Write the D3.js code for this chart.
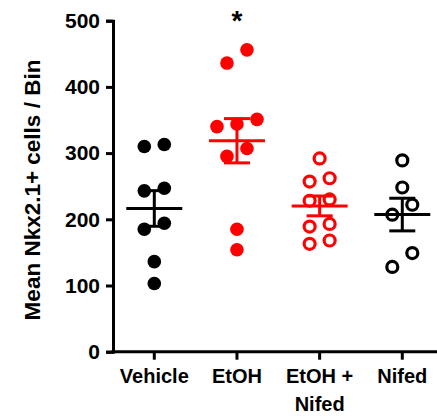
<!DOCTYPE html>
<html>
<head>
<meta charset="utf-8">
<script src="https://cdn.jsdelivr.net/npm/d3@7"></script>
<style>
  body { margin: 0; background: #fff; }
  svg text { font-family: "Liberation Sans", Arial, sans-serif; font-weight: bold; }
</style>
</head>
<body>
<script>
(function(){

    //data
    var categories = ["Vehicle", "EtOH", "EtOH + Nifed", "Nifed"];
    var vehicle = [313, 310, 247, 243, 194, 185, 136, 103];
    var etoh = [456, 436, 351, 344, 340, 307, 295, 185, 154];
    var etohNifed = [292, 262, 257, 230, 228, 193, 189, 168, 163];
    var nifed = [289, 248, 222, 207, 149, 128];
    var yTicks = [0, 100, 200, 300, 400, 500];
    var groupColors = ["#000000", "#ff0000", "#ff0000", "#000000"];
    var groupFilled = [true, true, false, false];
    var significant = ["EtOH"];

    var groups = [vehicle, etoh, etohNifed, nifed];

    window.onload = drawChart;

    function drawChart(){
        var width = 437, height = 419;

        var svg = d3.select("body")
            .append("svg")
            .attr("width", width)
            .attr("height", height);

        var y = d3.scaleLinear()
            .domain([0, 500])
            .range([351.7, 20.7]);

        var x = d3.scalePoint()
            .domain(categories)
            .range([154.3, 402.3]);

        //y axis
        var yAxis = svg.append("g")
            .attr("transform", "translate(113,0)")
            .call(d3.axisLeft(y).tickValues(yTicks).tickSize(7).tickPadding(6));
        yAxis.select(".domain").attr("stroke-width", 3);
        yAxis.selectAll(".tick line").attr("stroke-width", 3);
        yAxis.selectAll(".tick text")
            .attr("font-size", 21)
            .attr("fill", "#000");

        //x axis
        var xAxis = svg.append("g")
            .attr("transform", "translate(0,351.7)");
        xAxis.append("line")
            .attr("x1", 111.5).attr("x2", width)
            .attr("stroke", "#000").attr("stroke-width", 3);
        xAxis.selectAll(".xtick")
            .data(categories)
            .enter()
            .append("line")
            .attr("x1", function(d){ return x(d); })
            .attr("x2", function(d){ return x(d); })
            .attr("y1", 0).attr("y2", 8)
            .attr("stroke", "#000").attr("stroke-width", 3);
        var labels = xAxis.selectAll(".xlabel")
            .data(categories)
            .enter()
            .append("text")
            .attr("text-anchor", "middle")
            .attr("font-size", 20)
            .attr("x", function(d){ return x(d); })
            .attr("y", 31);
        labels.each(function(d){
            var parts = d == "EtOH + Nifed" ? ["EtOH +", "Nifed"] : [d];
            var t = d3.select(this);
            parts.forEach(function(p, i){
                t.append("tspan")
                    .attr("x", x(d))
                    .attr("dy", i == 0 ? 0 : 28)
                    .text(p);
            });
        });

        //axis title
        svg.append("text")
            .attr("transform", "rotate(-90)")
            .attr("x", -190)
            .attr("y", 40)
            .attr("text-anchor", "middle")
            .attr("font-size", 22.5)
            .text("Mean Nkx2.1+ cells / Bin");

        //points, mean and SEM for each group
        groups.forEach(function(vals, gi){
            var cx = x(categories[gi]);
            var col = groupColors[gi];
            var g = svg.append("g");

            g.selectAll("circle")
                .data(spread(vals))
                .enter()
                .append("circle")
                .attr("cx", function(d){ return cx + d.off; })
                .attr("cy", function(d){ return y(d.v); })
                .attr("r", groupFilled[gi] ? 6.8 : 5.5)
                .attr("fill", groupFilled[gi] ? col : "none")
                .attr("stroke", col)
                .attr("stroke-width", groupFilled[gi] ? 0 : 3.2);

            var m = d3.mean(vals);
            var sem = d3.deviation(vals) / Math.sqrt(vals.length);

            g.append("line")
                .attr("x1", cx - 28).attr("x2", cx + 28)
                .attr("y1", y(m)).attr("y2", y(m))
                .attr("stroke", col).attr("stroke-width", 3);
            g.append("line")
                .attr("x1", cx).attr("x2", cx)
                .attr("y1", y(m + sem)).attr("y2", y(m - sem))
                .attr("stroke", col).attr("stroke-width", 3);
            [m + sem, m - sem].forEach(function(v){
                g.append("line")
                    .attr("x1", cx - 13).attr("x2", cx + 13)
                    .attr("y1", y(v)).attr("y2", y(v))
                    .attr("stroke", col).attr("stroke-width", 3);
            });
        });

        //significance marker
        svg.selectAll(".star")
            .data(significant)
            .enter()
            .append("text")
            .attr("x", function(d){ return x(d); })
            .attr("y", y(486))
            .attr("text-anchor", "middle")
            .attr("font-size", 28)
            .text("*");
    };

    //spread points that sit at nearly the same height, like a scatter dot plot
    function spread(vals){
        var sorted = vals.slice().sort(function(a, b){ return b - a; });
        var out = [], cluster = [];
        function flush(){
            cluster.sort(function(a, b){ return a - b; });
            cluster.forEach(function(v, i){
                out.push({v: v, off: (i - (cluster.length - 1) / 2) * 20});
            });
            cluster = [];
        }
        sorted.forEach(function(v){
            if (cluster.length && cluster[0] - v > 22) flush();
            cluster.push(v);
        });
        flush();
        return out;
    };

})();
</script>
</body>
</html>
